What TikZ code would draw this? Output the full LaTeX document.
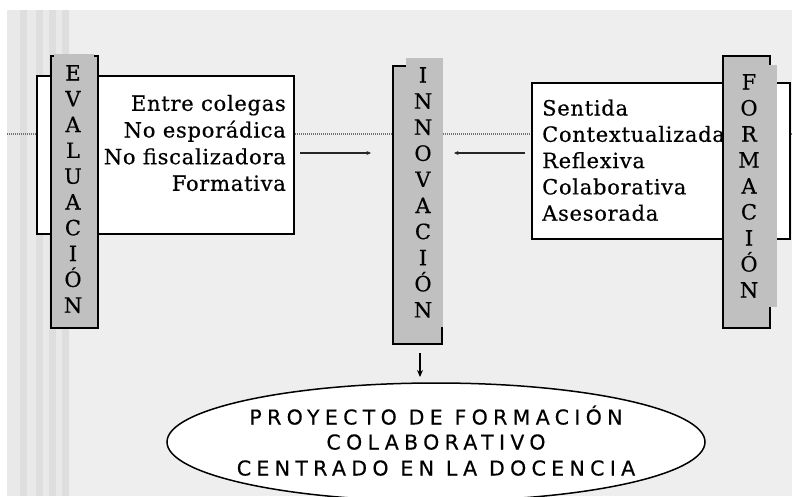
\documentclass[tikz,border=0pt]{standalone}
\usepackage{fontspec}
\setmainfont{DejaVu Serif}[LetterSpace=3.5,FakeBold=0.5]
\newfontfamily\ellfont{DejaVu Sans}[LetterSpace=26,FakeBold=0.4]
\usetikzlibrary{arrows.meta,shapes.geometric}
\definecolor{bgmain}{RGB}{238,238,238}
\definecolor{bglight}{RGB}{233,233,233}
\definecolor{bgdark}{RGB}{222,222,222}
\definecolor{colgray}{RGB}{192,192,192}
\begin{document}
\begin{tikzpicture}[x=1pt,y=-1pt,
  wbox/.style={draw=black, line width=1.5pt, fill=white, anchor=north west, inner sep=0pt},
  colbox/.style={draw=black, line width=1.5pt, fill=colgray, anchor=north west, inner sep=0pt},
  letter/.style={font=\fontsize{21}{25}\selectfont, text height=15pt, text depth=0pt, inner sep=0pt},
  item/.style={font=\fontsize{21}{26}\selectfont, inner sep=0pt},
  elltext/.style={font=\ellfont\fontsize{20.5}{25}\selectfont, inner sep=0pt, anchor=base},
  arr/.style={line width=1.4pt, draw=black!85, -{Stealth[length=4.5pt,width=4pt]}},
  darr/.style={line width=1.4pt, draw=black, -{Stealth[length=7pt,width=6pt]}}
]
\useasboundingbox (0,0) rectangle (792,496);
\fill[white] (0,0) rectangle (792,496);
\fill[bgmain] (7,10) rectangle (792,496);
\fill[bglight] (7,10) rectangle (69,496);
\foreach \sx in {20,36,49,62} \fill[bgdark] (\sx,10) rectangle ++(6.5,486);

% dotted guide line
\coordinate (dl) at (7,134);
\coordinate (dr) at (792,134);
\draw[black!55, line width=1.8pt, dash pattern=on 1pt off 1pt] (dl) -- (dr);

% left box
\node[wbox, minimum width=257pt, minimum height=158pt] (lbox) at (36,75) {};
\node[item, anchor=base east] (l1) at (286,110.8) {Entre colegas};
\node[item, anchor=base east] (l2) at (286,137.5) {No esporádica};
\node[item, anchor=base east] (l3) at (286,164.2) {No fiscalizadora};
\node[item, anchor=base east] (l4) at (286,190.8) {Formativa};

% EVALUACION column
\node[colbox, minimum width=47pt, minimum height=272pt] (evcol) at (50,55) {};
\fill[colgray] (53.5,54) rectangle (93.5,325);
\foreach \l [count=\i] in {E,V,A,L,U,A,C,I,Ó,N}
  \node[letter] (ev\i) at (73,{73+25.8*(\i-1)}) {\l};

% right box
\node[wbox, minimum width=258pt, minimum height=156pt] (rbox) at (531,82) {};
\node[item, anchor=base west] (r1) at (542,115.5) {Sentida};
\node[item, anchor=base west] (r2) at (542,141.8) {Contextualizada};
\node[item, anchor=base west] (r3) at (542,168.1) {Reflexiva};
\node[item, anchor=base west] (r4) at (542,194.4) {Colaborativa};
\node[item, anchor=base west] (r5) at (542,220.7) {Asesorada};

% FORMACION column
\node[colbox, minimum width=47pt, minimum height=272pt] (fcol) at (722,55) {};
\fill[colgray] (725,65) rectangle (777,307);
\foreach \l [count=\i] in {F,O,R,M,A,C,I,Ó,N}
  \node[letter] (fo\i) at (749,{82+26*(\i-1)}) {\l};

% INNOVACION column
\node[colbox, minimum width=49pt, minimum height=278pt] (incol) at (392,65) {};
\fill[colgray] (406,58) rectangle (443,327);
\foreach \l [count=\i] in {I,N,N,O,V,A,C,I,Ó,N}
  \node[letter] (in\i) at (423,{75+26.1*(\i-1)}) {\l};

% arrows
\coordinate (a1s) at (300,153);
\coordinate (a1e) at (371,153);
\coordinate (a2s) at (525,153);
\coordinate (a2e) at (454,153);
\coordinate (a3s) at (420,353);
\coordinate (a3e) at (420,377);
\draw[arr] (a1s) -- (a1e);
\draw[arr] (a2s) -- (a2e);
\draw[darr] (a3s) -- (a3e);

% ellipse
\node[draw=black, line width=1.5pt, fill=white, ellipse, minimum width=538pt, minimum height=118pt, inner sep=0pt] (proj) at (436,442) {};
\node[elltext] (p1) at (436,424.5) {PROYECTO DE FORMACIÓN};
\node[elltext] (p2) at (436,449.5) {COLABORATIVO};
\node[elltext] (p3) at (436,475.5) {CENTRADO EN LA DOCENCIA};
\end{tikzpicture}
\end{document}
